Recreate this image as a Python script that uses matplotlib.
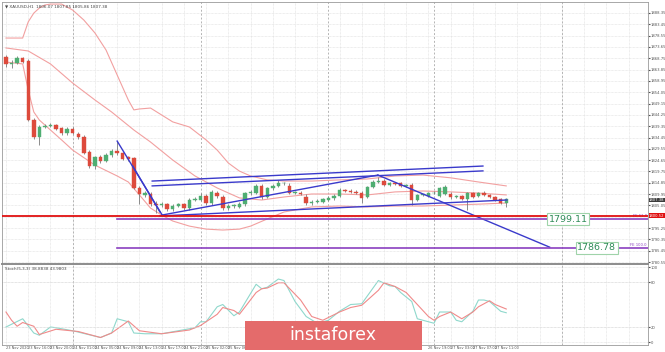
import matplotlib.pyplot as plt
from matplotlib.patches import Rectangle

# XAUUSD H1 candles (index = bar number from the left)
opens = [1869.4, 1866.3, 1866.9, 1868.8, 1867.7, 1842.0, 1834.5, 1839.1, 1839.6, 1839.7,
         1838.4, 1836.3, 1838.2, 1836.0, 1834.8, 1828.2, 1822.1, 1825.9, 1824.4, 1826.9,
         1828.7, 1827.6, 1825.9, 1825.4, 1812.7, 1809.6, 1810.0, 1805.8, 1805.1, 1805.5,
         1803.4, 1804.8, 1805.6, 1803.8, 1807.4, 1807.4, 1809.1, 1805.9, 1810.6, 1808.8,
         1803.8, 1804.8, 1804.4, 1805.7, 1810.3, 1810.6, 1813.5, 1808.8, 1812.5, 1813.5,
         1814.6, 1813.5, 1810.6, 1810.6, 1808.8, 1806.0, 1806.7, 1806.7, 1807.4, 1808.1,
         1809.1, 1811.7, 1811.4, 1811.0, 1810.6, 1808.8, 1812.9, 1815.3, 1815.7, 1813.9,
         1814.6, 1814.6, 1813.5, 1813.9, 1807.4, 1809.6, 1809.1, 1810.3, 1809.1, 1810.0,
         1810.0, 1808.6, 1809.1, 1807.7, 1810.3, 1809.1, 1810.6, 1809.6, 1808.6, 1807.7,
         1806.3]
highs = [1870.2, 1868.0, 1869.6, 1869.3, 1868.3, 1843.0, 1840.0, 1840.5, 1840.6, 1840.3,
         1839.2, 1838.8, 1838.9, 1837.0, 1835.5, 1829.0, 1826.6, 1826.8, 1827.6, 1829.4,
         1832.9, 1828.3, 1826.6, 1826.0, 1813.5, 1811.2, 1811.0, 1806.9, 1806.6, 1806.2,
         1805.6, 1806.2, 1806.3, 1808.1, 1808.5, 1810.3, 1809.9, 1811.8, 1811.5, 1809.5,
         1805.5, 1805.5, 1806.4, 1811.0, 1811.8, 1814.3, 1814.3, 1813.2, 1814.2, 1816.0,
         1815.3, 1814.9, 1811.3, 1811.2, 1810.2, 1807.4, 1807.8, 1808.3, 1809.0, 1809.8,
         1812.4, 1812.3, 1812.0, 1811.6, 1811.3, 1813.5, 1816.0, 1817.5, 1816.4, 1815.2,
         1815.0, 1815.2, 1814.4, 1814.6, 1810.2, 1810.2, 1810.9, 1811.2, 1813.2, 1813.9,
         1810.8, 1809.7, 1809.7, 1810.9, 1811.0, 1810.9, 1811.2, 1810.2, 1809.3, 1808.2,
         1808.3]
lows = [1865.1, 1864.5, 1866.2, 1866.6, 1841.5, 1833.8, 1831.2, 1838.6, 1838.9, 1837.8,
        1835.5, 1835.6, 1835.8, 1834.0, 1827.2, 1821.3, 1821.0, 1823.6, 1823.8, 1826.2,
        1827.0, 1824.5, 1824.4, 1812.0, 1805.5, 1808.8, 1805.0, 1801.6, 1804.2, 1802.7,
        1802.8, 1804.3, 1803.0, 1803.2, 1806.9, 1806.8, 1805.2, 1805.3, 1808.4, 1803.2,
        1803.0, 1804.0, 1803.8, 1805.0, 1809.6, 1810.0, 1808.0, 1808.2, 1811.8, 1813.0,
        1813.9, 1810.0, 1810.0, 1809.4, 1805.4, 1805.2, 1806.0, 1806.2, 1806.9, 1807.6,
        1808.6, 1810.8, 1810.4, 1810.0, 1806.2, 1808.2, 1812.4, 1814.8, 1813.4, 1813.4,
        1813.8, 1813.0, 1813.2, 1805.2, 1806.8, 1809.0, 1808.6, 1809.8, 1808.6, 1809.4,
        1808.0, 1808.4, 1807.2, 1803.1, 1808.3, 1808.6, 1809.0, 1808.1, 1807.0, 1805.5,
        1804.5]
closes = [1866.3, 1866.9, 1868.8, 1867.3, 1842.0, 1834.5, 1839.1, 1839.6, 1839.9, 1838.3,
          1836.3, 1838.2, 1836.3, 1834.8, 1827.9, 1822.1, 1825.9, 1824.4, 1826.9, 1828.7,
          1827.6, 1825.0, 1825.0, 1812.7, 1809.9, 1810.5, 1805.7, 1805.1, 1805.5, 1803.4,
          1804.8, 1805.5, 1803.8, 1807.4, 1807.7, 1809.1, 1805.9, 1811.0, 1809.1, 1803.8,
          1804.8, 1804.9, 1805.7, 1810.3, 1811.0, 1813.5, 1808.8, 1812.5, 1813.5, 1814.6,
          1814.7, 1810.6, 1810.7, 1810.0, 1806.0, 1806.7, 1807.1, 1807.7, 1808.4, 1809.1,
          1811.7, 1811.4, 1811.0, 1810.6, 1808.1, 1812.9, 1815.3, 1815.7, 1813.9, 1814.6,
          1814.3, 1813.5, 1813.9, 1807.4, 1809.6, 1809.7, 1810.3, 1810.6, 1812.5, 1813.2,
          1808.6, 1809.1, 1807.7, 1810.3, 1808.8, 1810.3, 1809.4, 1808.6, 1807.4, 1806.0,
          1807.7]

# Bollinger bands (20) read at a few bars
bb_upper_idx = [0, 3, 4, 5, 6, 7, 8, 10, 12, 14, 16, 18, 20, 22, 23, 24, 26, 28, 30, 33,
                36, 38, 40, 42, 44, 47, 50, 55, 60, 65, 70, 75, 80, 85, 90]
bb_upper = [1877.5, 1877.5, 1884.5, 1888.3, 1890.5, 1891.8, 1892.2, 1892.2, 1889.6, 1885.3,
            1879.7, 1872.3, 1861.5, 1850.7, 1846.4, 1846.8, 1847.2, 1844.2, 1841.2, 1839.0,
            1833.4, 1829.0, 1823.4, 1819.9, 1817.8, 1816.1, 1815.6, 1815.6, 1816.1, 1816.5,
            1817.8, 1818.2, 1817.0, 1815.2, 1813.5]
bb_mid_idx = [0, 4, 8, 12, 16, 19, 23, 26, 30, 34, 38, 42, 46, 50, 55, 60, 65, 70, 75, 80, 85, 90]
bb_mid = [1873.2, 1871.9, 1866.3, 1858.0, 1850.7, 1845.5, 1837.7, 1832.5, 1824.7, 1817.8,
          1812.6, 1808.3, 1807.4, 1808.7, 1810.0, 1810.0, 1809.6, 1810.9, 1811.3, 1810.9,
          1810.4, 1809.6]
bb_lower_idx = [0, 3, 4, 5, 6, 8, 10, 12, 16, 20, 22, 24, 26, 28, 30, 33, 36, 39, 42, 44,
                47, 50, 55, 60, 65, 70, 75, 80, 85, 90]
bb_lower = [1867.1, 1866.3, 1855.0, 1845.5, 1842.0, 1837.7, 1833.4, 1829.0, 1822.5, 1817.8,
            1815.2, 1809.6, 1803.9, 1800.9, 1798.3, 1796.1, 1794.8, 1794.4, 1794.8, 1796.1,
            1799.2, 1802.2, 1804.4, 1804.8, 1804.4, 1804.8, 1804.8, 1805.2, 1805.6, 1806.1]

# hand-drawn trend lines: (start bar, start price, end bar, end price)
trend_lines = [
    (20.0, 1832.9, 28.1, 1800.9),
    (22.8, 1822.1, 27.7, 1802.2),
    (26.3, 1815.6, 85.8, 1822.1),
    (26.3, 1813.5, 85.8, 1820.0),
    (27.7, 1800.5, 90.1, 1807.4),
    (28.1, 1800.9, 66.9, 1818.2),
    (66.9, 1818.2, 97.8, 1787.0),
]
support_price = 1800.52
fe_levels = [1799.11, 1786.78]
fe_names = ['FE 61.8', 'FE 100.0']
fe_start = 20
fe_box_bar = [101.1, 106.3]
last_price = 1807.38

price_ticks = [1780.55, 1785.45, 1790.35, 1795.25, 1800.15, 1805.05, 1809.95, 1814.85,
               1819.75, 1824.65, 1829.55, 1834.45, 1839.35, 1844.25, 1849.15, 1854.05,
               1858.95, 1863.85, 1868.75, 1873.65, 1878.55, 1883.45, 1888.35]

time_labels = ['23 Nov 2020', '23 Nov 16:00', '23 Nov 20:00', '24 Nov 01:00', '24 Nov 05:00',
               '24 Nov 09:00', '24 Nov 13:00', '24 Nov 17:00', '24 Nov 21:00', '25 Nov 02:00',
               '25 Nov 06:00', '25 Nov 10:00', '25 Nov 14:00', '25 Nov 18:00', '25 Nov 22:00',
               '26 Nov 03:00', '26 Nov 07:00', '26 Nov 11:00', '26 Nov 15:00', '26 Nov 19:00',
               '27 Nov 03:00', '27 Nov 07:00', '27 Nov 11:00']
day_breaks = [12, 35, 58, 77, 100]

# Stochastic(5,3,3)
stoch_k_idx = [0, 3, 5, 6, 8, 9, 12, 17, 19, 20, 22, 23, 25, 28, 31, 34, 35, 36, 38, 39, 41,
               42, 45, 46, 47, 49, 50, 52, 54, 56, 58, 60, 62, 64, 67, 69, 70, 71, 73, 74, 77,
               78, 80, 81, 82, 84, 85, 86, 87, 89, 90]
stoch_k = [20, 31, 12, 9, 20, 19, 15, 6, 12, 31, 27, 12, 11, 11, 15, 19, 27, 27, 47, 50, 35,
           40, 77, 71, 73, 84, 82, 54, 34, 25, 29, 41, 50, 51, 82, 75, 74, 66, 54, 31, 25,
           40, 40, 29, 27, 41, 56, 56, 54, 41, 39]
stoch_d_idx = [0, 1, 2, 3, 5, 6, 9, 13, 17, 19, 22, 24, 28, 33, 35, 38, 39, 41, 42, 45, 46,
               47, 49, 50, 53, 55, 57, 60, 62, 64, 67, 68, 70, 72, 74, 76, 77, 78, 80, 82, 84,
               85, 87, 88, 90]
stoch_d = [40, 29, 21, 26, 21, 10, 17, 14, 6, 12, 28, 15, 11, 16, 22, 37, 46, 42, 37, 66, 71,
           72, 79, 79, 56, 34, 29, 40, 46, 49, 69, 79, 74, 66, 50, 34, 29, 34, 40, 31, 40, 47,
           55, 50, 44]

W, H = 665, 352
X_RIGHT = 115.5          # bar index at the price-scale line
bull = '#4fae72'
bear = '#dd4a3c'
grid_kw = dict(color='#dcdcdc', lw=0.5, ls=(0, (1, 1)))
banner = (245, 422)      # pixel span of the watermark banner
small = 2.7

fig = plt.figure(figsize=(W / 100, H / 100), dpi=100)
ax = fig.add_axes([2 / W, 88 / H, 646 / W, 262 / H])
ax2 = fig.add_axes([2 / W, 7 / H, 646 / W, 80 / H], sharex=ax)

# candles
for i in range(len(opens)):
    o, c = opens[i], closes[i]
    col = bull if c >= o else bear
    ax.vlines(i, lows[i], highs[i], color='#7a7a7a', lw=0.6, zorder=3)
    ax.bar(i, max(abs(c - o), 0.25), bottom=min(o, c), width=0.62, color=col,
           edgecolor=col, lw=0.3, zorder=4)

band_col = '#f2a0a0'
ax.plot(bb_upper_idx, bb_upper, color=band_col, lw=0.8, zorder=2)
ax.plot(bb_mid_idx, bb_mid, color=band_col, lw=0.8, zorder=2)
ax.plot(bb_lower_idx, bb_lower, color=band_col, lw=0.8, zorder=2)

for x0, y0, x1, y1 in trend_lines:
    ax.plot([x0, x1], [y0, y1], color='#3a3acb', lw=1.0, zorder=5)

ax.axhline(support_price, color='#e01010', lw=1.3, zorder=5)
for lvl, name, bx in zip(fe_levels, fe_names, fe_box_bar):
    ax.plot([fe_start, X_RIGHT + 1], [lvl, lvl], color='#8a3fc0', lw=1.2, zorder=5)
    ax.text(X_RIGHT - 0.2, lvl + 0.35, name, fontsize=small, color='#8a3fc0', ha='right',
            va='bottom')
    ax.text(bx, lvl, f'{lvl:.2f}', fontsize=6.8, color='#2e8b57', ha='center', va='center',
            zorder=7, bbox=dict(boxstyle='square,pad=0.15', fc='white', ec='#9fd3a9', lw=0.8))

for d in day_breaks:
    ax.axvline(d, color='#b4b4b4', lw=0.7, ls=(0, (2, 2)), zorder=1)
    ax2.axvline(d, color='#b4b4b4', lw=0.7, ls=(0, (2, 2)), zorder=1)

ax.set_xlim(-0.72, X_RIGHT)
ax.set_ylim(1779.7, 1893.1)
ax.yaxis.tick_right()
ax.set_yticks(price_ticks)
# the red price box sits on top of the 1800 label, as in the terminal
ax.set_yticklabels(['' if abs(p - support_price) < 2 else f'{p:.2f}' for p in price_ticks])
ax.tick_params(axis='y', labelsize=small, length=1.2, pad=0.6, colors='#555555')
ax.tick_params(axis='x', labelbottom=False, length=0)
ax.set_xticks(range(0, 116, 4))
ax.grid(True, **grid_kw)
ax.set_axisbelow(True)

box_tr = ax.get_yaxis_transform()
ax.text(1.0015, support_price, f'{support_price:.2f}', transform=box_tr, fontsize=small,
        color='white', va='center', ha='left', zorder=8,
        bbox=dict(boxstyle='square,pad=0.12', fc='#e01010', ec='none'))
ax.text(1.0015, last_price, f'{last_price:.2f}', transform=box_tr, fontsize=small,
        color='white', va='center', ha='left', zorder=8,
        bbox=dict(boxstyle='square,pad=0.12', fc='#3c3c3c', ec='none'))
ax.text(0.004, 0.992, '\u25bc XAUUSD,H1  1806.07 1807.85 1805.86 1807.38', transform=ax.transAxes,
        fontsize=3.0, color='#444444', va='top', ha='left')

for s in ax.spines.values():
    s.set_color('#9a9a9a')
    s.set_linewidth(0.6)
ax.spines['bottom'].set_linewidth(1.4)
ax.spines['bottom'].set_color('#8c8c8c')

# stochastic panel
ax2.plot(stoch_k_idx, stoch_k, color='#8fd8cc', lw=0.8)
ax2.plot(stoch_d_idx, stoch_d, color='#f08a8a', lw=0.8)
ax2.axhline(80, **grid_kw)
ax2.axhline(20, **grid_kw)
ax2.set_ylim(-4, 102.7)
ax2.yaxis.tick_right()
ax2.set_yticks([0, 20, 80, 100])
ax2.tick_params(axis='y', labelsize=small, length=1.2, pad=0.6, colors='#555555')
ax2.set_xticks(range(0, 116, 4))
shown = []
for k, lab in enumerate(time_labels):
    px = 2 + 646 * (4 * k + 0.72) / (X_RIGHT + 0.72)
    shown.append('' if banner[0] < px < banner[1] else lab)   # hidden under the banner
ax2.set_xticklabels(shown + [''] * (29 - len(shown)))
ax2.tick_params(axis='x', labelsize=2.5, length=0, pad=1, colors='#555555')
for lab in ax2.get_xticklabels():
    lab.set_horizontalalignment('left')
ax2.grid(True, **grid_kw)
ax2.set_axisbelow(True)
ax2.text(0.004, 0.97, 'Stoch(5,3,3) 38.8838 43.9803', transform=ax2.transAxes,
         fontsize=3.0, color='#444444', va='top', ha='left')
for s in ax2.spines.values():
    s.set_color('#9a9a9a')
    s.set_linewidth(0.6)
ax2.spines['top'].set_visible(False)

# instaforex banner
fig.patches.append(Rectangle((banner[0] / W, 2 / H), (banner[1] - banner[0]) / W, 29 / H,
                             transform=fig.transFigure, facecolor='#e46b6b',
                             edgecolor='none', zorder=10))
fig.text(333 / W, 17 / H, 'instaforex', fontsize=12.5, color='white', ha='center',
         va='center', zorder=11)

fig.savefig('out.png', dpi=100, facecolor='white')
